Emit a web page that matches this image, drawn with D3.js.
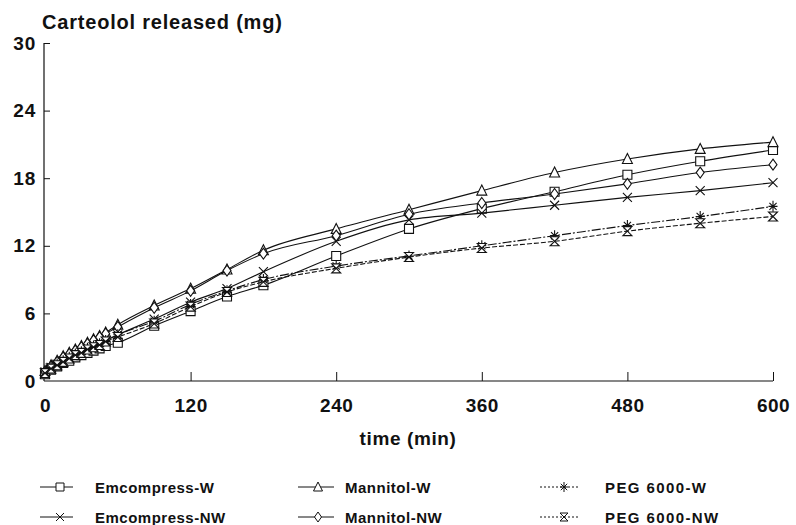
<!DOCTYPE html>
<html>
<head>
<meta charset="utf-8">
<script src="https://cdn.jsdelivr.net/npm/d3@7"></script>
<style>
  html, body { margin: 0; padding: 0; background: #fff; }
  svg { display: block; }
  text { font-family: "Liberation Sans", Arial, sans-serif; fill: #111; }
</style>
</head>
<body>
<svg id="chart" width="796" height="525"></svg>
<script>
// ---- data ----
const times = [0, 5, 10, 15, 20, 25, 30, 35, 40, 45, 50, 60, 90, 120, 150, 180, 240, 300, 360, 420, 480, 540, 600];
const emcompressW  = [0.6, 1.0, 1.3, 1.6, 1.8, 2.1, 2.3, 2.5, 2.7, 2.9, 3.1, 3.4, 4.9, 6.2, 7.5, 8.5, 11.1, 13.5, 15.3, 16.8, 18.3, 19.5, 20.5];
const emcompressNW = [0.8, 1.2, 1.5, 1.8, 2.1, 2.4, 2.7, 2.9, 3.1, 3.4, 3.6, 4.1, 5.5, 7.0, 8.2, 9.7, 12.4, 14.3, 14.9, 15.6, 16.3, 16.9, 17.6];
const mannitolW    = [0.9, 1.4, 1.8, 2.2, 2.5, 2.8, 3.1, 3.4, 3.7, 4.0, 4.3, 5.0, 6.7, 8.2, 9.9, 11.6, 13.5, 15.2, 16.9, 18.5, 19.7, 20.6, 21.2];
const mannitolNW   = [0.8, 1.3, 1.7, 2.1, 2.4, 2.7, 3.0, 3.3, 3.6, 3.9, 4.2, 4.8, 6.5, 8.0, 9.8, 11.3, 12.9, 14.8, 15.8, 16.6, 17.5, 18.5, 19.2];
const peg6000W     = [0.8, 1.2, 1.5, 1.8, 2.1, 2.4, 2.6, 2.9, 3.1, 3.3, 3.6, 4.1, 5.3, 6.8, 8.0, 9.0, 10.2, 11.1, 12.0, 12.9, 13.8, 14.6, 15.5];
const peg6000NW    = [0.7, 1.1, 1.4, 1.7, 2.0, 2.3, 2.5, 2.8, 3.0, 3.2, 3.5, 3.9, 5.1, 6.6, 7.9, 8.8, 10.0, 11.0, 11.8, 12.4, 13.3, 14.0, 14.6];
const seriesNames = ["Emcompress-W", "Emcompress-NW", "Mannitol-W", "Mannitol-NW", "PEG 6000-W", "PEG 6000-NW"];
const xTicks = [0, 120, 240, 360, 480, 600];
const yTicks = [0, 6, 12, 18, 24, 30];
const yTitle = "Carteolol released (mg)";
const xTitle = "time (min)";

const seriesValues = [emcompressW, emcompressNW, mannitolW, mannitolNW, peg6000W, peg6000NW];
const symbols = ["square", "cross", "triangle", "diamond", "star", "hourglass"];
const dashes = [null, null, null, null, "9,2,2,2", "5,2"];
const legendDashes = [null, null, null, null, "2,2", "2,2"];

const svg = d3.select("#chart");
const x = d3.scaleLinear().domain([0, 600]).range([45, 773]);
const y = d3.scaleLinear().domain([0, 30]).range([381, 43]);

// symbol path generator (centered at 0,0)
function symbolPath(type, s) {
  const h = s / 2;
  switch (type) {
    case "square": return `M${-h},${-h}H${h}V${h}H${-h}Z`;
    case "triangle": return `M0,${-h - 1}L${h + 0.5},${h}H${-h - 0.5}Z`;
    case "diamond": return `M0,${-h - 1}L${h - 0.5},0L0,${h + 1}L${-h + 0.5},0Z`;
    case "cross": return `M${-h},${-h}L${h},${h}M${h},${-h}L${-h},${h}`;
    case "star": return `M0,${-h - 1}V${h + 1}M${-h},0H${h}M${-h * 0.8},${-h * 0.8}L${h * 0.8},${h * 0.8}M${h * 0.8},${-h * 0.8}L${-h * 0.8},${h * 0.8}`;
    case "hourglass": return `M${-h},${-h}H${h}L${-h},${h}H${h}Z`;
  }
}

// axes
const axisG = svg.append("g").attr("stroke", "#111").attr("fill", "none");
axisG.append("line").attr("x1", x(0) - 1).attr("x2", x(0) - 1).attr("y1", y(30)).attr("y2", y(0)).attr("stroke-width", 1.2);
axisG.append("line").attr("x1", x(0) - 1).attr("x2", x(600)).attr("y1", y(0)).attr("y2", y(0)).attr("stroke-width", 1.2);

const yAxis = d3.axisLeft(y).tickValues(yTicks).tickSize(-6).tickPadding(10).tickFormat(d3.format("d"));
const yg = svg.append("g").attr("transform", `translate(${x(0) - 1},0)`).call(yAxis);
yg.select(".domain").remove();
yg.selectAll(".tick line").attr("stroke", "#111").filter(d => d === 0).remove();
yg.selectAll(".tick text").attr("font-size", 19).attr("font-weight", "bold")
  .attr("letter-spacing", 0.8)
  .attr("font-family", "Liberation Sans, Arial, sans-serif").attr("fill", "#111").attr("x", -8);

const xAxis = d3.axisBottom(x).tickValues(xTicks).tickSize(-9).tickPadding(18).tickFormat(d3.format("d"));
const xg = svg.append("g").attr("transform", `translate(0,${y(0)})`).call(xAxis);
xg.select(".domain").remove();
xg.selectAll(".tick line").attr("stroke", "#111").filter(d => d === 0).remove();
xg.selectAll(".tick text").attr("font-size", 19).attr("font-weight", "bold")
  .attr("letter-spacing", 0.5)
  .attr("font-family", "Liberation Sans, Arial, sans-serif").attr("fill", "#111");

svg.append("text").attr("x", 42).attr("y", 29).attr("font-size", 20).attr("font-weight", "bold")
  .attr("letter-spacing", 0.8).text(yTitle);
svg.append("text").attr("x", 408).attr("y", 445).attr("text-anchor", "middle")
  .attr("font-size", 19).attr("font-weight", "bold").attr("letter-spacing", 0.6).text(xTitle);

// lines + markers
const line = d3.line().x(d => x(d[0])).y(d => y(d[1])).curve(d3.curveMonotoneX);
seriesValues.forEach((vals, i) => {
  const pts = times.map((t, j) => [t, vals[j]]);
  svg.append("path").datum(pts).attr("d", line)
    .attr("fill", "none").attr("stroke", "#111").attr("stroke-width", 1.1)
    .attr("stroke-dasharray", dashes[i]);
  svg.append("g").selectAll("path").data(pts).join("path")
    .attr("transform", d => `translate(${x(d[0])},${y(d[1])})`)
    .attr("d", symbolPath(symbols[i], 9))
    .attr("fill", symbols[i] === "cross" || symbols[i] === "star" ? "none" : "#fff")
    .attr("stroke", "#111").attr("stroke-width", 1.1);
});

// legend
const legendLineX = [40, 298, 540];
const legendLineLen = [33, 36, 40];
const legendMarkX = [60, 318, 564];
const legendTextX = [95, 345, 605];
const legendRows = [487, 517];
seriesNames.forEach((name, i) => {
  const c = Math.floor(i / 2);
  const cy = legendRows[i % 2];
  const g = svg.append("g");
  g.append("line").attr("x1", legendLineX[c]).attr("x2", legendLineX[c] + legendLineLen[c]).attr("y1", cy).attr("y2", cy)
    .attr("stroke", "#111").attr("stroke-width", 1).attr("stroke-dasharray", legendDashes[i]);
  g.append("path").attr("transform", `translate(${legendMarkX[c]},${cy})`)
    .attr("d", symbolPath(symbols[i], 8))
    .attr("fill", symbols[i] === "cross" || symbols[i] === "star" ? "none" : "#fff")
    .attr("stroke", "#111").attr("stroke-width", 1);
  g.append("text").attr("x", legendTextX[c]).attr("y", cy + 6).attr("font-size", 15)
    .attr("font-weight", "bold").attr("letter-spacing", c === 2 ? 1.4 : 0.5).text(name);
});
</script>
</body>
</html>
